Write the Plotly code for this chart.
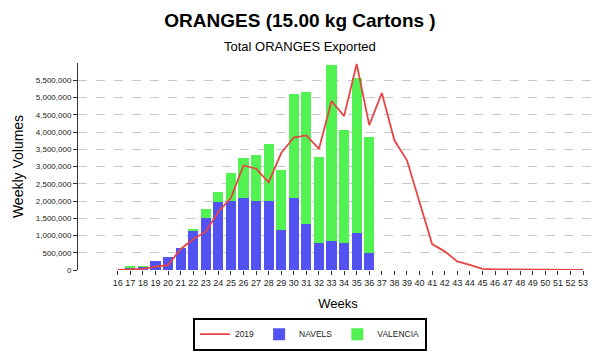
import plotly.graph_objects as go

weeks = list(range(16, 54))
navels = [0, 60000, 90000, 260000, 390000, 650000, 1130000, 1510000, 1960000, 2010000,
          2080000, 1990000, 1990000, 1160000, 2090000, 1320000, 790000, 830000, 770000,
          1080000, 500000] + [0] * 17
valencia = [0, 40000, 5000, 0, 0, 0, 70000, 270000, 300000, 810000,
            1160000, 1330000, 1650000, 1750000, 3010000, 3830000, 2500000, 5120000, 3300000,
            4490000, 3350000] + [0] * 17
y2019 = [0, 20000, 30000, 100000, 140000, 610000, 890000, 1110000, 1690000, 2090000,
         3030000, 2940000, 2540000, 3390000, 3840000, 3900000, 3510000, 4900000, 4460000,
         5970000, 4200000, 5130000, 3760000, 3180000, 1970000, 750000, 540000, 250000,
         150000, 30000, 20000, 15000, 12000, 10000, 8000, 6000, 5000, 5000]
ytick_vals = [0, 500000, 1000000, 1500000, 2000000, 2500000, 3000000, 3500000,
              4000000, 4500000, 5000000, 5500000]
ytick_text = ["{:,}".format(v) for v in ytick_vals]

fig = go.Figure()
fig.add_trace(go.Scatter(x=weeks, y=y2019, mode="lines", name="2019",
                         line=dict(color="#E84545", width=1.8)))
fig.add_trace(go.Bar(x=weeks, y=navels, name="NAVELS", marker_color="#5252F2",
                     marker_line_width=0))
fig.add_trace(go.Bar(x=weeks, y=valencia, name="VALENCIA", marker_color="#52F252",
                     marker_line_width=0))

fig.update_layout(
    barmode="stack",
    bargap=0.2,
    width=600, height=361,
    margin=dict(l=78, r=2, t=63, b=91),
    paper_bgcolor="white", plot_bgcolor="white",
    font=dict(family="Liberation Sans, Arial, sans-serif", color="#222"),
    title=dict(text="<b>ORANGES (15.00 kg Cartons )</b>", x=0.5, xanchor="center",
               y=0.945, yanchor="middle", font=dict(size=19, color="#000")),
    annotations=[dict(text="Total ORANGES Exported", xref="paper", yref="paper",
                      x=0.5, xanchor="center", y=(361 - 46 - 91) / 207.0,
                      yanchor="middle", showarrow=False,
                      font=dict(size=13, color="#000"),
                      xshift=300 - (78 + 520 * 0.5))],
    legend=dict(orientation="h", x=0.446, xanchor="center", y=-0.31, yanchor="middle",
                bordercolor="#000", borderwidth=2, font=dict(size=8.5, color="#222"),
                traceorder="normal", itemwidth=30),
    showlegend=True,
)
fig.update_xaxes(range=[12.84, 54.19], tickmode="array", tickvals=weeks,
                 ticktext=[str(w) for w in weeks], ticks="outside", ticklen=4,
                 tickcolor="#333", tickfont=dict(size=9, color="#222"),
                 showgrid=False, zeroline=False, showline=False, automargin=False,
                 title=dict(text="Weeks", font=dict(size=13, color="#000"), standoff=12))
fig.update_yaxes(range=[0, 6000000], tickmode="array", tickvals=ytick_vals,
                 ticktext=ytick_text, ticks="outside", ticklen=4, tickcolor="#333",
                 tickfont=dict(size=8, color="#222"), automargin=False,
                 showgrid=True, gridcolor="#c8c8c8", griddash="dash", gridwidth=1,
                 zeroline=False, showline=True, linecolor="#333", linewidth=1,
                 title=dict(text="Weekly Volumes", font=dict(size=14, color="#000"),
                            standoff=8))
fig.write_html("out.html", config={"displayModeBar": False},
               post_script="document.body.style.margin='0';")
